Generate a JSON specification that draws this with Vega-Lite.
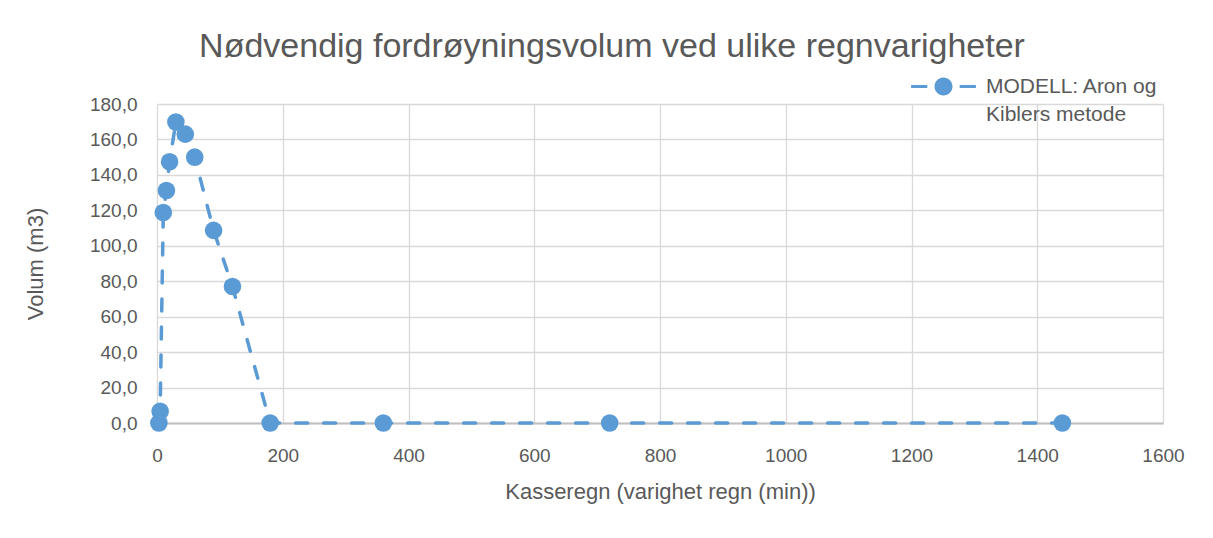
{
  "$schema": "https://vega.github.io/schema/vega-lite/v6.json",
  "width": 1006,
  "height": 319,
  "autosize": {"type": "none"},
  "padding": {"left": 157, "top": 104, "right": 50, "bottom": 115},
  "background": "white",
  "title": {
    "text": "Nødvendig fordrøyningsvolum ved ulike regnvarigheter",
    "font": "Liberation Sans",
    "fontSize": 34,
    "fontWeight": "normal",
    "color": "#595959",
    "anchor": "middle",
    "dx": -48,
    "offset": 12
  },
  "config": {
    "view": {"stroke": null},
    "font": "Liberation Sans",
    "axis": {
      "labelFont": "Liberation Sans",
      "titleFont": "Liberation Sans",
      "labelFontSize": 19,
      "labelColor": "#595959",
      "titleFontSize": 22,
      "titleFontWeight": "normal",
      "titleColor": "#595959",
      "gridColor": "#D9D9D9",
      "gridWidth": 1.3,
      "ticks": false,
      "labelFlush": false
    }
  },
  "data": {
    "values": [
      {"min": 3, "volum": 0, "serie": "MODELL: Aron og Kiblers metode"},
      {"min": 5, "volum": 6.6, "serie": "MODELL: Aron og Kiblers metode"},
      {"min": 10, "volum": 118.8, "serie": "MODELL: Aron og Kiblers metode"},
      {"min": 15, "volum": 131.2, "serie": "MODELL: Aron og Kiblers metode"},
      {"min": 20, "volum": 147.4, "serie": "MODELL: Aron og Kiblers metode"},
      {"min": 30, "volum": 169.8, "serie": "MODELL: Aron og Kiblers metode"},
      {"min": 45, "volum": 163.0, "serie": "MODELL: Aron og Kiblers metode"},
      {"min": 60, "volum": 150.0, "serie": "MODELL: Aron og Kiblers metode"},
      {"min": 90, "volum": 108.7, "serie": "MODELL: Aron og Kiblers metode"},
      {"min": 120, "volum": 77.0, "serie": "MODELL: Aron og Kiblers metode"},
      {"min": 180, "volum": 0, "serie": "MODELL: Aron og Kiblers metode"},
      {"min": 360, "volum": 0, "serie": "MODELL: Aron og Kiblers metode"},
      {"min": 720, "volum": 0, "serie": "MODELL: Aron og Kiblers metode"},
      {"min": 1440, "volum": 0, "serie": "MODELL: Aron og Kiblers metode"}
    ]
  },
  "encoding": {
    "x": {
      "field": "min",
      "type": "quantitative",
      "scale": {"domain": [0, 1600], "nice": false},
      "axis": {
        "title": "Kasseregn (varighet regn (min))",
        "values": [0, 200, 400, 600, 800, 1000, 1200, 1400, 1600],
        "format": "d",
        "domainColor": "#BFBFBF",
        "domainWidth": 2,
        "labelPadding": 23,
        "titlePadding": 16
      }
    },
    "y": {
      "field": "volum",
      "type": "quantitative",
      "scale": {"domain": [0, 180], "nice": false},
      "axis": {
        "title": "Volum (m3)",
        "values": [0, 20, 40, 60, 80, 100, 120, 140, 160, 180],
        "labelExpr": "replace(format(datum.value, '.1f'), '.', ',')",
        "domain": false,
        "labelPadding": 20,
        "titlePadding": 42
      }
    },
    "color": {
      "field": "serie",
      "type": "nominal",
      "scale": {"range": ["#5B9BD5"]},
      "legend": {
        "title": null,
        "orient": "none",
        "legendX": 776,
        "legendY": -28,
        "padding": 0,
        "symbolType": "M -3.6 -0.17 H -1.8 V 0.17 H -3.6 Z M 1.8 -0.17 H 3.6 V 0.17 H 1.8 Z M -1 0 A 1 1 0 1 0 1 0 A 1 1 0 1 0 -1 0 Z",
        "symbolSize": 324,
        "symbolFillColor": "#5B9BD5",
        "symbolStrokeWidth": 0,
        "labelExpr": "['MODELL: Aron og', 'Kiblers metode']",
        "labelFont": "Liberation Sans",
        "labelFontSize": 21,
        "labelColor": "#595959",
        "labelOffset": 32,
        "labelBaseline": "middle",
        "labelLimit": 300,
        "encode": {"labels": {"update": {"lineHeight": {"value": 28}}}}
      }
    }
  },
  "layer": [
    {"mark": {"type": "line", "strokeDash": [12, 16], "strokeWidth": 3.5, "strokeCap": "round"}},
    {"mark": {"type": "point", "filled": true, "size": 310, "opacity": 1}}
  ]
}
